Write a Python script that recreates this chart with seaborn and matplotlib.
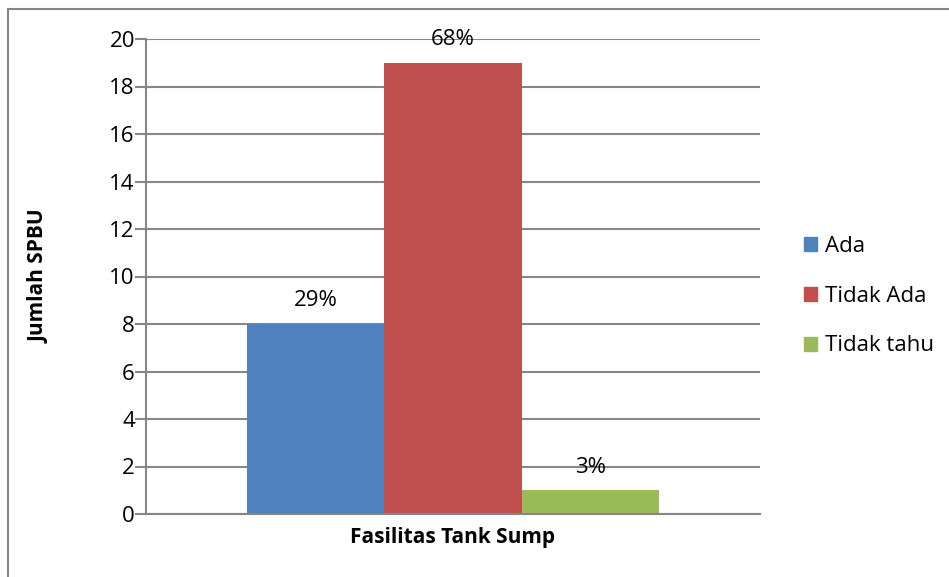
import matplotlib
matplotlib.use("Agg")
import matplotlib.pyplot as plt
import matplotlib.patches as mpatches
import seaborn as sns
import pandas as pd

# Survey counts of fuel stations (SPBU) by tank sump availability
category = ["Fasilitas Tank Sump"]
responses = ["Ada", "Tidak Ada", "Tidak tahu"]
counts = [8, 19, 1]
percent_labels = ["29%", "68%", "3%"]
colors = ["#4F81BD", "#C0504D", "#9BBB59"]
y_ticks = [0, 2, 4, 6, 8, 10, 12, 14, 16, 18, 20]

df = pd.DataFrame({
    "kategori": category * len(responses),
    "jawaban": responses,
    "jumlah": counts,
})

sns.set_theme(style="white", rc={"text.color": "black",
                                 "axes.labelcolor": "black",
                                 "ytick.color": "black"})
plt.rcParams["font.family"] = ["Open Sans", "DejaVu Sans"]

W, H = 949, 577
fig = plt.figure(figsize=(W / 100, H / 100), dpi=100)
ax = fig.add_axes([146 / W, 1 - 514 / H, (760 - 146) / W, (514 - 39) / H])

sns.barplot(data=df, x="kategori", y="jumlah", hue="jawaban",
            hue_order=responses, palette=colors, width=0.67,
            saturation=1, ax=ax, legend=True, edgecolor="none")

ax.set_xlim(-0.5, 0.5)
ax.set_ylim(0, 20)
ax.set_yticks(y_ticks)
ax.tick_params(axis="y", labelsize=16, length=8, width=1.5, color="#868686",
               labelcolor="black", pad=0, direction="out", left=True)
ax.tick_params(axis="x", labelsize=0, length=0)
ax.set_xticklabels([""])
ax.yaxis.grid(True, color="#868686", linewidth=1.5)
ax.set_axisbelow(True)
for side in ["top", "right"]:
    ax.spines[side].set_visible(False)
for side in ["left", "bottom"]:
    ax.spines[side].set_color("#868686")
    ax.spines[side].set_linewidth(1.5)

ax.set_ylabel("Jumlah SPBU", fontsize=15, fontweight="bold", labelpad=43)
ax.set_xlabel("Fasilitas Tank Sump", fontsize=15, fontweight="bold", labelpad=6)

# Percentage labels above each bar
for container, lab in zip(ax.containers, percent_labels):
    ax.bar_label(container, labels=[lab], padding=9, fontsize=16, color="black")

# Legend on the right
handles = [mpatches.Patch(color=c, label=r) for c, r in zip(colors, responses)]
ax.legend(handles=handles, loc="center left", bbox_to_anchor=(795 / W, 1 - 296 / H),
          bbox_transform=fig.transFigure, frameon=False, fontsize=16,
          handlelength=0.6, handleheight=0.6, handletextpad=0.35,
          labelspacing=1.3, borderaxespad=0, labelcolor="black")

# Chart frame
fig.patches.append(mpatches.Rectangle((8 / W, -0.05), 1.1, 1 - 9 / H + 0.05,
                                      transform=fig.transFigure, fill=False,
                                      edgecolor="#868686", linewidth=1.5))

fig.savefig("out.png", dpi=100)
